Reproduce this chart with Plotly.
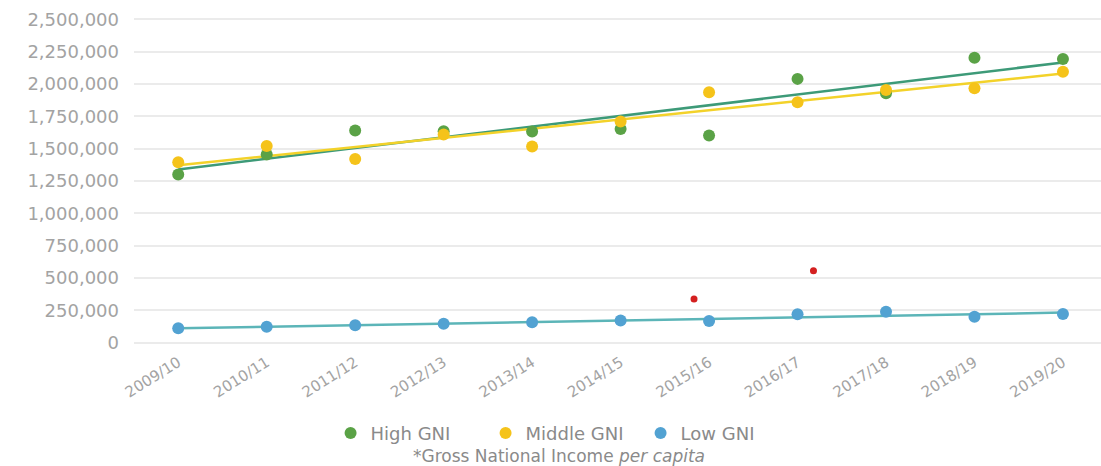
import numpy as np
import plotly.graph_objects as go

# Academic years on the category axis
years = ["2009/10", "2010/11", "2011/12", "2012/13", "2013/14", "2014/15",
         "2015/16", "2016/17", "2017/18", "2018/19", "2019/20"]

# Values per income group
high_gni = [1300000, 1455000, 1640000, 1635000, 1632000, 1652000,
            1601000, 2040000, 1929000, 2204000, 2194000]
middle_gni = [1395000, 1521000, 1420000, 1610000, 1516000, 1710000,
              1937000, 1860000, 1954000, 1967000, 2096000]
low_gni = [110000, 122000, 133000, 146000, 156000, 170000,
           166000, 218000, 238000, 200000, 220000]

# Two stray points sitting between year positions
extra_x = [5.83, 7.18]
extra_y = [337000, 556000]

y_ticks = [0, 250000, 500000, 750000, 1000000, 1250000, 1500000,
           1750000, 2000000, 2250000, 2500000]

FONT = "DejaVu Sans"
GREY = "#a3a3a3"

series = [
    ("High GNI", high_gni, "#5aa246", "#3d9a78"),
    ("Middle GNI", middle_gni, "#f5c31a", "#f3d22a"),
    ("Low GNI", low_gni, "#52a2d2", "#5cb5b8"),
]

xs = np.arange(len(years))
fig = go.Figure()

# Least-squares trend line for each group
for name, vals, mcol, lcol in series:
    slope, icpt = np.polyfit(xs, vals, 1)
    fig.add_trace(go.Scatter(
        x=[xs[0], xs[-1]], y=[icpt + slope * xs[0], icpt + slope * xs[-1]],
        mode="lines", line=dict(color=lcol, width=2.5),
        showlegend=False, hoverinfo="skip"))

# Scatter points
for name, vals, mcol, lcol in series:
    fig.add_trace(go.Scatter(
        x=xs, y=vals, mode="markers", name=name,
        marker=dict(color=mcol, size=12, line=dict(width=0))))

fig.add_trace(go.Scatter(
    x=extra_x, y=extra_y, mode="markers", showlegend=False,
    marker=dict(color="#d42020", size=7, line=dict(width=0))))

fig.update_layout(
    width=1101, height=466,
    margin=dict(l=134, r=0, t=10, b=116),
    paper_bgcolor="white", plot_bgcolor="white",
    font=dict(family=FONT, color=GREY),
    legend=dict(orientation="h", x=0.4437, xanchor="center",
                y=-0.245, yanchor="middle",
                font=dict(family=FONT, size=18, color="#8a8a8a"),
                itemwidth=30, tracegroupgap=0,
                entrywidth=110, entrywidthmode="pixels"),
    annotations=[dict(
        text="*Gross National Income <i>per capita</i>",
        xref="paper", yref="paper", x=0.44, y=-0.312,
        xanchor="center", yanchor="middle", showarrow=False,
        font=dict(family=FONT, size=17, color="#8a8a8a"))],
)

fig.update_xaxes(
    range=[-0.5, 10.43], tickmode="array", tickvals=list(xs), ticktext=years,
    tickangle=-32, showgrid=False, zeroline=False, showline=False,
    tickfont=dict(family=FONT, size=15, color=GREY))

fig.update_yaxes(
    range=[-58000, 2573000], tickmode="array", tickvals=y_ticks,
    tickformat=",d", showgrid=True, gridcolor="#ebebeb", gridwidth=1.5,
    zeroline=False, showline=False, ticklabelstandoff=14,
    tickfont=dict(family=FONT, size=18, color=GREY))

fig.write_html("out.html")
